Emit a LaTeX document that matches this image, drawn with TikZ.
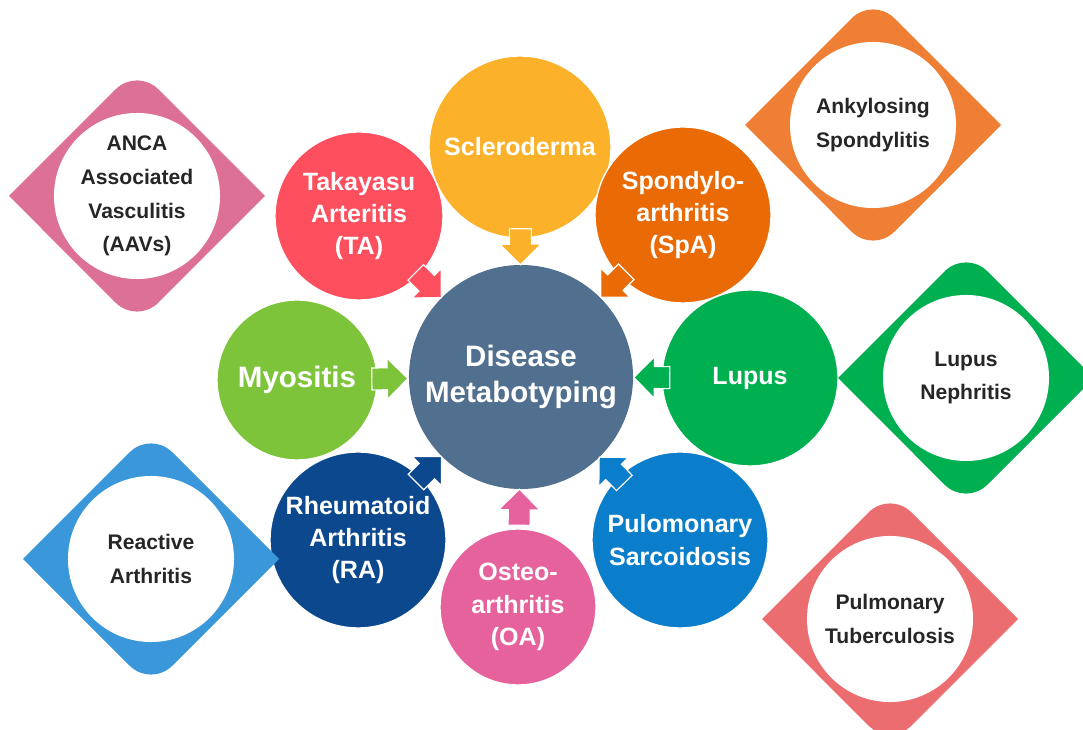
\documentclass[tikz,border=0pt]{standalone}
\usepackage{fontspec}
\setmainfont{Liberation Sans}
\usetikzlibrary{shapes.arrows}

\definecolor{hubblue}{HTML}{51708F}
\definecolor{sclyellow}{HTML}{FCB12B}
\definecolor{takred}{HTML}{FD4F5D}
\definecolor{spaorange}{HTML}{EA6A05}
\definecolor{myogreen}{HTML}{7EC43A}
\definecolor{lupgreen}{HTML}{00AF50}
\definecolor{ranavy}{HTML}{0B488D}
\definecolor{oapink}{HTML}{E6629D}
\definecolor{sarblue}{HTML}{0A7DCB}
\definecolor{aavpink}{HTML}{DC7096}
\definecolor{ankorange}{HTML}{EE7F35}
\definecolor{reablue}{HTML}{3A98DA}
\definecolor{ptbred}{HTML}{EB6D70}

\tikzset{
  hub/.style={circle, fill=hubblue, minimum size=5.6cm, inner sep=0pt, text=white,
    align=center, font=\bfseries\fontsize{21}{26}\selectfont},
  disease/.style={circle, fill=#1, draw=white, line width=1pt, inner sep=0pt,
    text=white, align=center, font=\bfseries\fontsize{17.8}{23}\selectfont},
  leaf/.style={circle, fill=white, minimum size=4.15cm, inner sep=0pt,
    text=black!85, align=center, font=\bfseries\fontsize{15}{24}\selectfont},
  feed/.style={single arrow, fill=#1, draw=white, line width=0.8pt,
    inner xsep=0pt, inner ysep=0.26cm, minimum height=0.9cm,
    single arrow head extend=0.24cm, sloped, allow upside down},
  % diamond with rounded top and bottom corners
  rdiamond/.pic={
    \path[pic actions] (-128,0) -- (-21.2,106.8)
      arc[start angle=135, end angle=45, radius=30] -- (128,0) -- (21.2,-106.8)
      arc[start angle=-45, end angle=-135, radius=30] -- cycle;
  }
}

\begin{document}
\begin{tikzpicture}[x=0.025cm, y=0.025cm]
\useasboundingbox (0,0) rectangle (1083,729);

% centre
\node[hub] (dm) at (521,352) {Disease\\Metabotyping};

% ring of diseases
\node[disease=sclyellow, minimum size=4.55cm] (scl) at (520,582) {Scleroderma};
\node[disease=takred, minimum size=4.2cm] (tak) at (359,513) {Takayasu\\Arteritis\\(TA)};
\node[disease=spaorange, minimum size=4.4cm] (spa) at (683,514) {Spondylo-\\arthritis\\(SpA)};
\node[disease=myogreen, minimum size=4cm, font=\bfseries\fontsize{21}{26}\selectfont] (myo) at (297,349) {Myositis};
\node[disease=lupgreen, minimum size=4.4cm] (lup) at (750,351) {Lupus};
\node[disease=ranavy, minimum size=4.4cm] (ra) at (358,189) {Rheumatoid\\Arthritis\\(RA)};
\node[disease=oapink, minimum size=3.9cm] (oa) at (518,122) {Osteo-\\arthritis\\(OA)};
\node[disease=sarblue, minimum size=4.4cm] (sar) at (680,189) {Pulomonary\\Sarcoidosis};

% arrows into the centre
\path (scl.center) -- node[feed=sclyellow, pos=0.41] {} (dm.center);
\path (tak.center) -- node[feed=takred, pos=0.405] {} (dm.center);
\path (spa.center) -- node[feed=spaorange, pos=0.405] {} (dm.center);
\path (myo.center) -- node[feed=myogreen, pos=0.39] {} (dm.center);
\path (lup.center) -- node[feed=lupgreen, pos=0.405] {} (dm.center);
\path (ra.center) -- node[feed=ranavy, pos=0.41] {} (dm.center);
\path (oa.center) -- node[feed=oapink, pos=0.41] {} (dm.center);
\path (sar.center) -- node[feed=sarblue, pos=0.405] {} (dm.center);

% outer conditions
\pic[fill=aavpink] at (137,533) {rdiamond};
\node[leaf] (aav) at (137,533) {ANCA\\Associated\\Vasculitis\\(AAVs)};
\pic[fill=ankorange] at (873,604) {rdiamond};
\node[leaf] (ank) at (873,604) {Ankylosing\\Spondylitis};
\pic[fill=lupgreen] at (966,351) {rdiamond};
\node[leaf] (lun) at (966,351) {Lupus\\Nephritis};
\pic[fill=reablue] at (151,170) {rdiamond};
\node[leaf] (rea) at (151,170) {Reactive\\Arthritis};
\pic[fill=ptbred] at (890,110) {rdiamond};
\node[leaf] (ptb) at (890,110) {Pulmonary\\Tuberculosis};
\end{tikzpicture}
\end{document}
